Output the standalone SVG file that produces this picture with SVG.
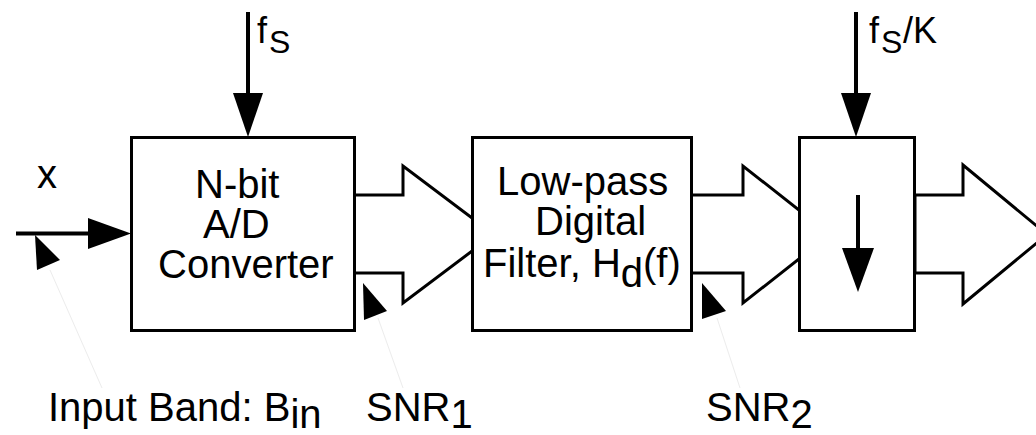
<svg xmlns="http://www.w3.org/2000/svg" width="1036" height="435" viewBox="0 0 1036 435">
<style>
  .box{fill:#fff;stroke:#000;stroke-width:3}
  .hollow{fill:#fff;stroke:#000;stroke-width:3;stroke-linejoin:miter}
  .line{stroke:#000;stroke-width:4;fill:none}
  .head{fill:#000;stroke:none}
  .ptr{fill:#000;stroke:none}
  .leader{stroke:#ececec;stroke-width:1;fill:none}
  .t{font-family:"Liberation Sans",Arial,sans-serif;font-size:40px;fill:#000}
  .ts{font-family:"Liberation Sans",Arial,sans-serif;font-size:36px;fill:#000}
  .sub{font-size:32px}
</style>
<rect width="1036" height="435" fill="#fff"/>
<g id="connectors">
  <polygon class="hollow" points="352,195 403,195 403,166 494,234.5 403,303 403,273 352,273"/>
  <polygon class="hollow" points="690,195 743,195 743,166 830,234.5 743,303 743,273 690,273"/>
  <polygon class="hollow" points="915,195 963,195 963,165 1047,234.5 963,304 963,273 915,273"/>
  <line class="line" x1="16" y1="233.5" x2="92" y2="233.5"/>
  <polygon class="head" points="88,218 131,233.5 88,249"/>
  <line class="line" x1="248" y1="12" x2="248" y2="96"/>
  <polygon class="head" points="233,93 263,93 248,137"/>
  <line class="line" x1="856" y1="12" x2="856" y2="96"/>
  <polygon class="head" points="841,93 871,93 856,137"/>
</g>
<g id="adc">
  <rect class="box" x="131.5" y="137.5" width="223" height="193"/>
  <text class="t" x="195" y="198">N-bit</text>
  <text class="t" x="203" y="238">A/D</text>
  <text class="t" x="158" y="278">Converter</text>
</g>
<g id="filter">
  <rect class="box" x="472.5" y="137.5" width="219" height="193"/>
  <text class="t" x="497" y="195">Low-pass</text>
  <text class="t" x="535" y="235">Digital</text>
  <text class="t" x="483" y="277">Filter, H<tspan dy="10">d</tspan><tspan dy="-10">(f)</tspan></text>
</g>
<g id="decimator">
  <rect class="box" x="799.5" y="137.5" width="115" height="193"/>
  <line class="line" x1="858" y1="195" x2="858" y2="252"/>
  <polygon class="head" points="842,248 874,248 858,292"/>
</g>
<g id="label-x">
  <text class="t" x="37" y="188">x</text>
</g>
<g id="label-fs">
  <text class="ts" x="257" y="43">f</text>
  <text class="ts sub" x="269" y="53">S</text>
</g>
<g id="label-fsK">
  <text class="ts" x="869" y="43">f</text>
  <text class="ts sub" x="881" y="53">S</text>
  <text class="ts" x="903" y="43">/K</text>
</g>
<g id="label-input">
  <polygon class="ptr" points="35,235 60,260 37,270"/>
  <line class="leader" x1="50" y1="270" x2="102" y2="388"/>
  <text class="t" x="48" y="421">Input Band: B<tspan dy="7">in</tspan></text>
</g>
<g id="label-snr1">
  <polygon class="ptr" points="363,283 387,311 364,320"/>
  <line class="leader" x1="378" y1="318" x2="403" y2="388"/>
  <text class="t" x="366" y="421">SNR<tspan dy="7">1</tspan></text>
</g>
<g id="label-snr2">
  <polygon class="ptr" points="702,283 726,311 702,319"/>
  <line class="leader" x1="717" y1="318" x2="740" y2="388"/>
  <text class="t" x="706" y="421">SNR<tspan dy="7">2</tspan></text>
</g>
</svg>
